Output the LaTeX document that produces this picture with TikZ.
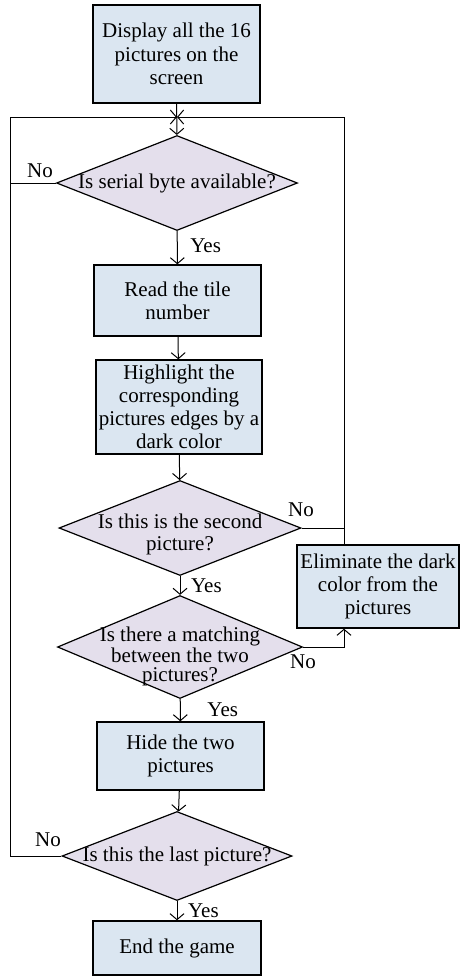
\documentclass[tikz,border=0pt]{standalone}
\usepackage{fontspec}
\setmainfont{Liberation Serif}
\usepackage{xcolor}
\usetikzlibrary{shapes.geometric,arrows.meta}
\definecolor{boxblue}{RGB}{219,230,241}
\definecolor{declilac}{RGB}{228,223,236}
\tikzset{
	stepbox/.style={draw,line width=0.7pt,fill=boxblue,align=center,inner sep=1pt,
		font=\fontsize{10.5}{11.6}\selectfont},
	decision/.style={draw,line width=0.6pt,fill=declilac,diamond,inner sep=0pt},
	dtext/.style={align=center,font=\fontsize{10.5}{11}\selectfont},
	flow/.style={line width=0.5pt,-{Straight Barb[length=3pt,width=7pt]}},
	ans/.style={font=\fontsize{10.5}{11}\selectfont}
}
\begin{document}
\begin{tikzpicture}[x=0.5pt,y=-0.5pt]
	 \useasboundingbox (0,0) rectangle (460,976);
	 % process boxes
	 \node[stepbox,minimum width=83.5pt,minimum height=49pt] (disp) at (176.5,54) {Display all the 16\\pictures on the\\screen};
	 \node[stepbox,minimum width=83.5pt,minimum height=35.5pt] (read) at (177.5,300.5) {Read the tile\\number};
	 \node[stepbox,minimum width=83pt,minimum height=47pt] (high) at (179,407) {Highlight the\\corresponding\\pictures edges by a\\dark color};
	 \node[stepbox,minimum width=81pt,minimum height=41.5pt] (elim) at (378,586.5) {Eliminate the dark\\color from the\\pictures};
	 \node[stepbox,minimum width=83.5pt,minimum height=34pt] (hide) at (180.5,756) {Hide the two\\pictures};
	 \node[stepbox,minimum width=84pt,minimum height=27pt] (end) at (177,948) {End the game};
	 % decisions
	 \node[decision,minimum width=120.5pt,minimum height=47.5pt,label={[dtext]center:Is serial byte available?}] (ser) at (177,183) {};
	 \node[decision,minimum width=121pt,minimum height=47.5pt,label={[dtext,yshift=-3pt]center:Is this is the second\\picture?}] (second) at (180,528) {};
	 \node[decision,minimum width=122.5pt,minimum height=51.5pt,label={[dtext,font=\fontsize{10.5}{9.4}\selectfont,yshift=-4.5pt]center:Is there a matching\\between the two\\pictures?}] (match) at (180,647) {};
	 \node[decision,minimum width=115pt,minimum height=44.5pt,label={[dtext]center:Is this the last picture?}] (last) at (177,856) {};
	 % loop corners
	 \coordinate (join) at (177,117);
	 \coordinate (lft) at (10,117);
	 \coordinate (rgt) at (344,117);
	 % main flow
	 \draw[flow] (disp) -- (ser);
	 \draw[flow] (ser) -- (read) node[ans,pos=0.45,right=3pt] {Yes};
	 \draw[flow] (read) -- (high);
	 \draw[flow] (high) -- (second);
	 \draw[flow] (second) -- (match) node[ans,midway,right=2pt] {Yes};
	 \draw[flow] (match) -- (hide) node[ans,midway,right=10pt] {Yes};
	 \draw[flow] (hide) -- (last);
	 \draw[flow] (last) -- (end) node[ans,midway,right=2pt] {Yes};
	 % left loop
	 \draw[flow] (last.west) -| (lft) -- (join);
	 \draw[line width=0.5pt] (ser.west) -- (ser.west -| lft);
	 \node[ans] at (40,171) {No};
	 \node[ans] at (48,840) {No};
	 % right loop
	 \draw[flow] (elim.north -| rgt) -- (rgt) -- (join);
	 \draw[line width=0.5pt] (second.east) -- (second.east -| rgt);
	 \draw[flow] (match.east) -| (elim.south -| rgt);
	 \node[ans] at (301,510) {No};
	 \node[ans] at (303,662) {No};
\end{tikzpicture}
\end{document}
